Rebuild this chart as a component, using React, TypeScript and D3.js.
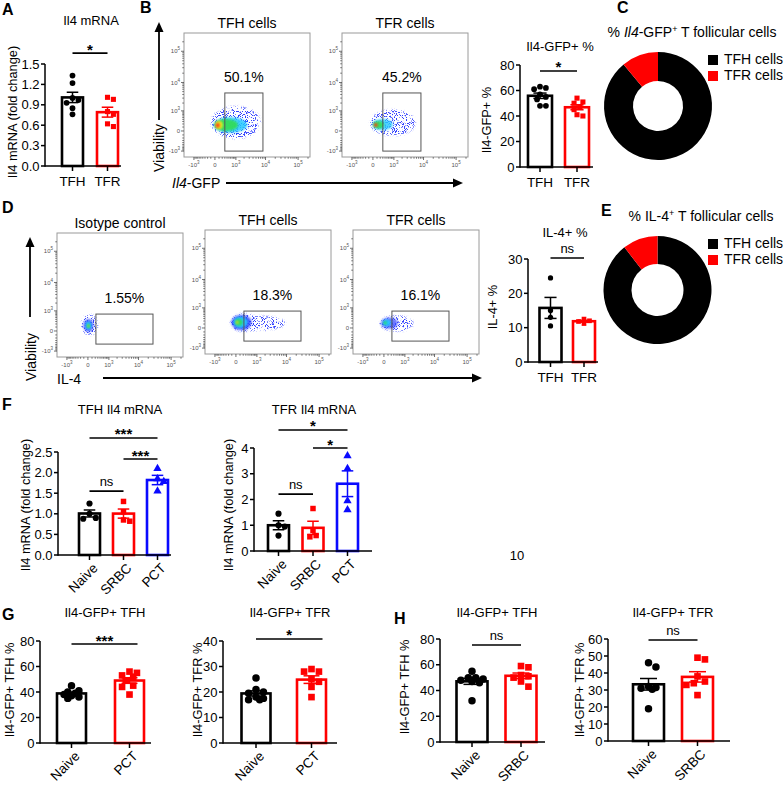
import React from "react";
import * as d3 from "d3";

const FONT = "'Liberation Sans', Arial, Helvetica, sans-serif";
const BLACK = "#000000";
const RED = "#ff0000";
const BLUE = "#0a0aff";

// ---------------- data ----------------
const aCats = ["TFH", "TFR"];
const aTFH = [1.33, 1.22, 1.0, 0.97, 0.93, 0.85, 0.76];
const aTFR = [1.01, 0.98, 0.8, 0.76, 0.62, 0.58];

const bFlowTitles = ["TFH cells", "TFR cells"];
const bFlowPct = ["50.1%", "45.2%"];
const bCats = ["TFH", "TFR"];
const bTFH = [63, 62, 61, 57, 55, 53, 48, 48];
const bTFR = [54, 51, 50, 47, 45, 41, 40];

const cLabels = ["TFH cells", "TFR cells"];
const cShares = [89, 11];

const dFlowTitles = ["Isotype control", "TFH cells", "TFR cells"];
const dFlowPct = ["1.55%", "18.3%", "16.1%"];
const dCats = ["TFH", "TFR"];
const dTFH = [24.5, 15, 13, 10.5];
const dTFR = [12.5, 12, 11.8, 11.2];

const eLabels = ["TFH cells", "TFR cells"];
const eShares = [89.5, 10.5];

const fCats = ["Naive", "SRBC", "PCT"];
const fTfhNaive = [1.25, 1.0, 0.9, 0.88];
const fTfhSrbc = [1.3, 1.05, 0.85, 0.82];
const fTfhPct = [2.1, 1.85, 1.78, 1.55];
const fTfrNaive = [1.45, 1.0, 0.95, 0.6];
const fTfrSrbc = [1.65, 0.8, 0.6, 0.55];
const fTfrPct = [3.7, 3.2, 1.95, 1.6];

const gCats = ["Naive", "PCT"];
const gTfhNaive = [45, 41, 40, 39, 38, 37, 36, 35];
const gTfhPct = [56, 55, 53, 52, 49, 45, 44, 38];
const gTfrNaive = [25.5, 21, 20, 19.5, 18, 17.5, 17, 17];
const gTfrPct = [29, 28, 28, 25, 24, 22, 18];

const hCats = ["Naive", "SRBC"];
const hTfhNaive = [55, 50, 50, 49, 48, 47, 46, 32];
const hTfhSrbc = [59, 58, 52, 51, 50, 47, 43];
const hTfrNaive = [46, 43.5, 32, 31.5, 31, 30.5, 19];
const hTfrSrbc = [49, 48, 38, 35, 34, 33, 27];

// flow cytometry axis ticks and gates (data units)
const flowMajor = [-1000, 0, 1000, 10000, 100000];
const flowExp = [3, 0, 3, 4, 5];
const bGate = { x: [300, 8300], y: [-1000, 4500] };
const dGate = { x: [225, 28000], y: [-480, 730] };

type Layer = { x: number[]; y: number[]; c: string; o?: number; s?: boolean };
const bTfhCloud: Layer[] = [
  { x: [-90, 7000], y: [-220, 1500], c: "#2233ff", s: true },
  { x: [-50, 4200], y: [-100, 800], c: "#2b3cff", s: true },
  { x: [-30, 2600], y: [-40, 520], c: "#22c8ff", o: 0.85 },
  { x: [-5, 1200], y: [0, 420], c: "#33dd55" },
  { x: [5, 220], y: [40, 330], c: "#f5e61a" },
  { x: [18, 120], y: [80, 240], c: "#ff3010" },
];
const bTfrCloud: Layer[] = [
  { x: [-60, 5500], y: [-120, 1100], c: "#2233ff", s: true },
  { x: [-30, 1500], y: [-40, 560], c: "#3a4cff", s: true },
  { x: [-10, 900], y: [20, 420], c: "#22c8ff", o: 0.8 },
  { x: [5, 350], y: [60, 320], c: "#33dd55" },
  { x: [18, 120], y: [100, 240], c: "#ff4010" },
];
const dIsoCloud: Layer[] = [
  { x: [-180, 300], y: [-100, 700], c: "#2233ff", s: true },
  { x: [-110, 140], y: [-20, 420], c: "#3a4cff", o: 0.85 },
  { x: [-60, 90], y: [30, 300], c: "#22c8ff" },
  { x: [-25, 50], y: [70, 210], c: "#33dd55" },
  { x: [-8, 25], y: [100, 160], c: "#f5c81a" },
];
const dTfhCloud: Layer[] = [
  { x: [-100, 9000], y: [-60, 420], c: "#2233ff", s: true },
  { x: [-140, 1100], y: [-90, 560], c: "#2b3cff", s: true },
  { x: [-110, 600], y: [-50, 470], c: "#2b3cff", o: 0.85 },
  { x: [-60, 380], y: [0, 390], c: "#22c8ff" },
  { x: [-20, 180], y: [50, 290], c: "#33dd55" },
  { x: [0, 60], y: [100, 210], c: "#f5d01a" },
];
const dTfrCloud: Layer[] = [
  { x: [-100, 2000], y: [-80, 450], c: "#2233ff", s: true },
  { x: [-70, 500], y: [-20, 340], c: "#3a4cff", o: 0.75 },
  { x: [-30, 200], y: [40, 260], c: "#22c8ff" },
  { x: [-10, 70], y: [90, 190], c: "#33dd55" },
];

// ---------------- components ----------------
type Sig = { a: number; b: number; v: number; text: string; ext?: number };
type BarProps = {
  cats: string[];
  groups: number[][];
  colors: string[];
  shapes: any[];
  msize: number;
  axisX: number;
  axisEnd: number;
  y0: number;
  yTop: number;
  max: number;
  step: number;
  dec: number;
  c0: number;
  c1: number;
  bw: number;
  title: string;
  titleX: number;
  titleY: number;
  ylabel: string;
  ylX: number;
  ylY: number;
  rotate?: boolean;
  sigs: Sig[];
};

// spread points horizontally inside the bar so they do not overlap (Prism-like scatter)
function swarm(vals: number[], ys: (v: number) => number, cx: number, d: number, half: number) {
  const placed: { x: number; y: number }[] = [];
  const out: { x: number; y: number }[] = new Array(vals.length);
  const order = vals.map((_, i) => i).sort((a, b) => vals[b] - vals[a]);
  const stepX = d * 0.5;
  const nSteps = Math.max(0, Math.floor(half / stepX));
  const cands: number[] = [0];
  for (let k = 1; k <= nSteps; k++) cands.push(k * stepX, -k * stepX);
  for (const i of order) {
    const py = ys(vals[i]);
    let best = cx;
    let bestScore = -Infinity;
    let found = false;
    for (const off of cands) {
      const tx = cx + off;
      const minD = placed.length ? d3.min(placed, (p) => Math.hypot(p.x - tx, p.y - py))! : Infinity;
      if (minD >= d * 0.95) {
        best = tx;
        found = true;
        break;
      }
      if (minD > bestScore) {
        bestScore = minD;
        best = tx;
      }
    }
    void found;
    placed.push({ x: best, y: py });
    out[i] = { x: best, y: py };
  }
  return out;
}

function BarChart(p: BarProps) {
  const y = d3.scaleLinear().domain([0, p.max]).range([p.y0, p.yTop]);
  const x = d3.scalePoint<string>().domain(p.cats).range([p.c0, p.c1]);
  const ticks = d3.range(0, p.max + p.step / 2, p.step);
  const fmt = d3.format(`.${p.dec}f`);
  const d = Math.sqrt(p.msize) + 0.8;
  return (
    <g fontFamily={FONT}>
      <text x={p.titleX} y={p.titleY} textAnchor="middle" fontSize={13}>
        {p.title}
      </text>
      <text
        transform={`translate(${p.ylX},${p.ylY}) rotate(-90)`}
        textAnchor="middle"
        dy="0.35em"
        fontSize={12.8}
      >
        {p.ylabel}
      </text>
      {p.groups.map((g, i) => {
        const cx = x(p.cats[i])!;
        const m = d3.mean(g)!;
        const sem = d3.deviation(g)! / Math.sqrt(g.length);
        const pts = swarm(g, y, cx, d, p.bw / 2 - d / 2);
        const sym = d3.symbol().type(p.shapes[i]).size(p.msize)();
        const cap = p.bw * 0.55;
        return (
          <g key={i}>
            <rect
              x={cx - p.bw / 2}
              y={y(m)}
              width={p.bw}
              height={p.y0 - y(m)}
              fill="white"
              stroke={p.colors[i]}
              strokeWidth={2.6}
            />
            {pts.map((pt, j) => (
              <path key={j} d={sym!} transform={`translate(${pt.x},${pt.y})`} fill={p.colors[i]} />
            ))}
            <line x1={cx} x2={cx} y1={y(m - sem)} y2={y(m + sem)} stroke={p.colors[i]} strokeWidth={1.5} />
            <line x1={cx - cap / 2} x2={cx + cap / 2} y1={y(m + sem)} y2={y(m + sem)} stroke={p.colors[i]} strokeWidth={1.5} />
            <line x1={cx - cap / 2} x2={cx + cap / 2} y1={y(m - sem)} y2={y(m - sem)} stroke={p.colors[i]} strokeWidth={1.5} />
          </g>
        );
      })}
      <line x1={p.axisX} x2={p.axisX} y1={p.y0 + 0.75} y2={p.yTop} stroke={BLACK} strokeWidth={1.5} />
      <line x1={p.axisX} x2={p.axisEnd} y1={p.y0} y2={p.y0} stroke={BLACK} strokeWidth={1.5} />
      {ticks.map((t) => (
        <g key={t}>
          <line x1={p.axisX - 4} x2={p.axisX} y1={y(t)} y2={y(t)} stroke={BLACK} strokeWidth={1.5} />
          <text x={p.axisX - 5.5} y={y(t)} dy="0.36em" textAnchor="end" fontSize={13}>
            {fmt(t)}
          </text>
        </g>
      ))}
      {p.cats.map((c) => {
        const cx = x(c)!;
        return (
          <g key={c}>
            <line x1={cx} x2={cx} y1={p.y0} y2={p.y0 + 5} stroke={BLACK} strokeWidth={1.5} />
            {p.rotate ? (
              <text transform={`translate(${cx + 9},${p.y0 + 14}) rotate(-45)`} textAnchor="end" fontSize={13.5}>
                {c}
              </text>
            ) : (
              <text x={cx} y={p.y0 + 20} textAnchor="middle" fontSize={13.5}>
                {c}
              </text>
            )}
          </g>
        );
      })}
      {p.sigs.map((s, i) => {
        const xa = x(p.cats[s.a])!;
        const xb = x(p.cats[s.b])! + (s.ext || 0);
        const ly = y(s.v);
        const star = s.text.includes("*");
        return (
          <g key={i}>
            <line x1={xa} x2={xb} y1={ly} y2={ly} stroke={BLACK} strokeWidth={1.6} />
            <text
              x={(xa + xb) / 2}
              y={star ? ly + 1.5 : ly - 5}
              textAnchor="middle"
              fontSize={star ? 15 : 13}
              fontWeight={star ? "bold" : "normal"}
            >
              {s.text}
            </text>
          </g>
        );
      })}
    </g>
  );
}

function tickLabel(v: number, e: number) {
  if (v === 0) return <tspan>0</tspan>;
  return (
    <>
      <tspan>{v < 0 ? "-10" : "10"}</tspan>
      <tspan dy={-3} fontSize={4.5}>
        {e}
      </tspan>
    </>
  );
}

function FlowPlot(props: {
  id: string;
  x: number;
  y: number;
  w: number;
  h: number;
  title: string;
  pct: string;
  gate: { x: number[]; y: number[] };
  layers: Layer[];
}) {
  const { id, x, y, w, h, title, pct, gate, layers } = props;
  const xs = d3.scaleSymlog().constant(300).domain([-2300, 230000]).range([x, x + w]);
  const ys = d3.scaleSymlog().constant(300).domain([-1700, 380000]).range([y + h, y]);
  const minor = [
    ...d3.range(-900, 1000, 100).filter((v) => v !== 0),
    ...d3.range(2000, 10000, 1000),
    ...d3.range(20000, 100000, 10000),
    200000,
  ];
  const gx0 = xs(gate.x[0]);
  const gx1 = xs(gate.x[1]);
  const gy0 = ys(gate.y[1]);
  const gy1 = ys(gate.y[0]);
  return (
    <g fontFamily={FONT}>
      <clipPath id={id}>
        <rect x={x} y={y} width={w} height={h} />
      </clipPath>
      <text x={x + w / 2} y={y - 5} textAnchor="middle" fontSize={14}>
        {title}
      </text>
      <rect x={x} y={y} width={w} height={h} fill="white" stroke="#9a9a9a" strokeWidth={1} />
      <g clipPath={`url(#${id})`}>
        {layers.map((l, i) => {
          const x0 = xs(l.x[0]);
          const x1 = xs(l.x[1]);
          const y0 = ys(l.y[1]);
          const y1 = ys(l.y[0]);
          return (
            <ellipse
              key={i}
              cx={(x0 + x1) / 2}
              cy={(y0 + y1) / 2}
              rx={(x1 - x0) / 2}
              ry={(y1 - y0) / 2}
              fill={l.c}
              opacity={l.o ?? 0.92}
              filter={l.s ? "url(#speckle)" : "url(#soft)"}
            />
          );
        })}
      </g>
      <rect x={gx0} y={gy0} width={gx1 - gx0} height={gy1 - gy0} fill="none" stroke="#555" strokeWidth={1} />
      <text x={(gx0 + gx1) / 2} y={gy0 - 11} textAnchor="middle" fontSize={14}>
        {pct}
      </text>
      {flowMajor.map((v, i) => (
        <g key={v} fill="#555" fontSize={6}>
          <line x1={x - 3} x2={x} y1={ys(v)} y2={ys(v)} stroke="#333" strokeWidth={0.7} />
          <text x={x - 4} y={ys(v)} dy="0.35em" textAnchor="end">
            {tickLabel(v, flowExp[i])}
          </text>
          <line x1={xs(v)} x2={xs(v)} y1={y + h} y2={y + h + 3} stroke="#333" strokeWidth={0.7} />
          <text x={xs(v)} y={y + h + 10} textAnchor="middle">
            {tickLabel(v, flowExp[i])}
          </text>
        </g>
      ))}
      {minor.map((v) => (
        <g key={v}>
          <line x1={x - 1.8} x2={x} y1={ys(v)} y2={ys(v)} stroke="#333" strokeWidth={0.6} />
          <line x1={xs(v)} x2={xs(v)} y1={y + h} y2={y + h + 1.8} stroke="#333" strokeWidth={0.6} />
        </g>
      ))}
    </g>
  );
}

function Donut(props: { cx: number; cy: number; r0: number; r1: number; values: number[] }) {
  const pie = d3.pie<number>().sort(null)(props.values);
  const arc = d3.arc<d3.PieArcDatum<number>>().innerRadius(props.r0).outerRadius(props.r1);
  const cols = [BLACK, RED];
  return (
    <g transform={`translate(${props.cx},${props.cy})`}>
      {pie.map((p, i) => (
        <path key={i} d={arc(p)!} fill={cols[i]} />
      ))}
    </g>
  );
}

function Legend(props: { x: number; y: number; labels: string[] }) {
  const cols = [BLACK, RED];
  return (
    <g fontFamily={FONT} fontSize={14}>
      {props.labels.map((l, i) => (
        <g key={l}>
          <rect x={props.x} y={props.y + i * 16 - 9} width={10} height={10} fill={cols[i]} />
          <text x={props.x + 16} y={props.y + i * 16}>
            {l}
          </text>
        </g>
      ))}
    </g>
  );
}

function Arrow(props: { x1: number; y1: number; x2: number; y2: number }) {
  const { x1, y1, x2, y2 } = props;
  const ang = Math.atan2(y2 - y1, x2 - x1);
  const L = 10;
  const W = 4.5;
  const bx = x2 - L * Math.cos(ang);
  const by = y2 - L * Math.sin(ang);
  const px = -Math.sin(ang) * W;
  const py = Math.cos(ang) * W;
  return (
    <g>
      <line x1={x1} y1={y1} x2={bx} y2={by} stroke={BLACK} strokeWidth={1.8} />
      <polygon points={`${x2},${y2} ${bx + px},${by + py} ${bx - px},${by - py}`} fill={BLACK} />
    </g>
  );
}

const Letter = (p: { x: number; y: number; t: string }) => (
  <text x={p.x} y={p.y} fontFamily={FONT} fontWeight="bold" fontSize={16}>
    {p.t}
  </text>
);

export default function App() {
  const circ = d3.symbolCircle;
  const sq = d3.symbolSquare;
  const tri = d3.symbolTriangle;
  return (
    <svg
      width={783}
      height={786}
      style={{ position: "absolute", left: 0, top: 0, background: "white" }}
      fontFamily={FONT}
    >
      <defs>
        <filter id="soft" x="-20%" y="-20%" width="140%" height="140%">
          <feGaussianBlur stdDeviation="0.8" />
        </filter>
        <filter id="speckle" x="-10%" y="-10%" width="120%" height="120%">
          <feGaussianBlur in="SourceGraphic" stdDeviation="1.2" result="b" />
          <feTurbulence type="fractalNoise" baseFrequency="1.1" numOctaves="1" seed="4" result="noise" />
          <feColorMatrix
            in="noise"
            type="matrix"
            values="0 0 0 0 0  0 0 0 0 0  0 0 0 0 0  0 0 0 14 -7.6"
            result="mask"
          />
          <feComposite in="b" in2="mask" operator="in" />
        </filter>
      </defs>
      <rect x={0} y={0} width={783} height={786} fill="white" />

      {/* ---------- A ---------- */}
      <Letter x={2} y={15} t="A" />
      <BarChart
        cats={aCats}
        groups={[aTFH, aTFR]}
        colors={[BLACK, RED]}
        shapes={[circ, sq]}
        msize={26}
        axisX={45}
        axisEnd={121}
        y0={166}
        yTop={64}
        max={1.5}
        step={0.3}
        dec={1}
        c0={72.5}
        c1={107.5}
        bw={21}
        title="Il4 mRNA"
        titleX={91}
        titleY={25}
        ylabel="Il4 mRNA (fold change)"
        ylX={13}
        ylY={112}
        sigs={[{ a: 0, b: 1, v: 1.66, text: "*" }]}
      />

      {/* ---------- B ---------- */}
      <Letter x={140} y={13} t="B" />
      <FlowPlot id="fb1" x={184} y={33} w={126} h={124} title={bFlowTitles[0]} pct={bFlowPct[0]} gate={bGate} layers={bTfhCloud} />
      <FlowPlot id="fb2" x={342} y={33} w={126} h={124} title={bFlowTitles[1]} pct={bFlowPct[1]} gate={bGate} layers={bTfrCloud} />
      <Arrow x1={159} y1={120} x2={159} y2={22} />
      <text transform="translate(159,148) rotate(-90)" textAnchor="middle" dy="0.35em" fontSize={14}>
        Viability
      </text>
      <text x={172} y={188} fontSize={14}>
        <tspan fontStyle="italic">Il4</tspan>
        <tspan>-GFP</tspan>
      </text>
      <Arrow x1={226} y1={183} x2={463} y2={183} />
      <BarChart
        cats={bCats}
        groups={[bTFH, bTFR]}
        colors={[BLACK, RED]}
        shapes={[circ, sq]}
        msize={26}
        axisX={520}
        axisEnd={593}
        y0={167}
        yTop={65}
        max={80}
        step={20}
        dec={0}
        c0={540}
        c1={577}
        bw={24}
        title="Il4-GFP+ %"
        titleX={560}
        titleY={51}
        ylabel="Il4-GFP+ %"
        ylX={487}
        ylY={120}
        sigs={[{ a: 0, b: 1, v: 75.3, text: "*" }]}
      />

      {/* ---------- C ---------- */}
      <Letter x={617} y={13} t="C" />
      <text x={692} y={37} textAnchor="middle" fontSize={14}>
        <tspan>% </tspan>
        <tspan fontStyle="italic">Il4</tspan>
        <tspan>-GFP</tspan>
        <tspan dy={-5} fontSize={9}>
          +
        </tspan>
        <tspan dy={5}> T follicular cells</tspan>
      </text>
      <Donut cx={658} cy={106} r0={25} r1={54} values={cShares} />
      <Legend x={708} y={64} labels={cLabels} />

      {/* ---------- D ---------- */}
      <Letter x={2} y={213} t="D" />
      <FlowPlot id="fd1" x={57} y={233} w={126} h={124} title={dFlowTitles[0]} pct={dFlowPct[0]} gate={dGate} layers={dIsoCloud} />
      <FlowPlot id="fd2" x={205} y={230} w={126} h={124} title={dFlowTitles[1]} pct={dFlowPct[1]} gate={dGate} layers={dTfhCloud} />
      <FlowPlot id="fd3" x={353} y={230} w={126} h={124} title={dFlowTitles[2]} pct={dFlowPct[2]} gate={dGate} layers={dTfrCloud} />
      <Arrow x1={30} y1={317} x2={30} y2={237} />
      <text transform="translate(31,357) rotate(-90)" textAnchor="middle" dy="0.35em" fontSize={14}>
        Viability
      </text>
      <text x={57} y={384} fontSize={14}>
        IL-4
      </text>
      <Arrow x1={103} y1={378} x2={482} y2={378} />
      <BarChart
        cats={dCats}
        groups={[dTFH, dTFR]}
        colors={[BLACK, RED]}
        shapes={[circ, sq]}
        msize={22}
        axisX={528}
        axisEnd={598}
        y0={362}
        yTop={259}
        max={30}
        step={10}
        dec={0}
        c0={550.5}
        c1={584}
        bw={22}
        title="IL-4+ %"
        titleX={565}
        titleY={237}
        ylabel="IL-4+ %"
        ylX={493}
        ylY={307}
        sigs={[{ a: 0, b: 1, v: 30.3, text: "ns" }]}
      />

      {/* ---------- E ---------- */}
      <Letter x={601} y={216} t="E" />
      <text x={701} y={221} textAnchor="middle" fontSize={14}>
        <tspan>% IL-4</tspan>
        <tspan dy={-5} fontSize={9}>
          +
        </tspan>
        <tspan dy={5}> T follicular cells</tspan>
      </text>
      <Donut cx={657.5} cy={290} r0={26} r1={54} values={eShares} />
      <Legend x={708} y={248} labels={eLabels} />

      {/* ---------- F ---------- */}
      <Letter x={2} y={410} t="F" />
      <BarChart
        cats={fCats}
        groups={[fTfhNaive, fTfhSrbc, fTfhPct]}
        colors={[BLACK, RED, BLUE]}
        shapes={[circ, sq, tri]}
        msize={30}
        axisX={58}
        axisEnd={171}
        y0={555}
        yTop={452}
        max={2.5}
        step={0.5}
        dec={1}
        c0={89.5}
        c1={157.5}
        bw={21}
        title="TFH Il4 mRNA"
        titleX={120}
        titleY={414}
        ylabel="Il4 mRNA (fold change)"
        ylX={26}
        ylY={505}
        rotate
        sigs={[
          { a: 0, b: 2, v: 2.84, text: "***" },
          { a: 1, b: 2, v: 2.33, text: "***" },
          { a: 0, b: 1, v: 1.55, text: "ns" },
        ]}
      />
      <BarChart
        cats={fCats}
        groups={[fTfrNaive, fTfrSrbc, fTfrPct]}
        colors={[BLACK, RED, BLUE]}
        shapes={[circ, sq, tri]}
        msize={30}
        axisX={254}
        axisEnd={372}
        y0={551}
        yTop={448}
        max={4}
        step={1}
        dec={0}
        c0={278.5}
        c1={347.5}
        bw={21}
        title="TFR Il4 mRNA"
        titleX={314}
        titleY={414}
        ylabel="Il4 mRNA (fold change)"
        ylX={229}
        ylY={505}
        rotate
        sigs={[
          { a: 0, b: 2, v: 4.7, text: "*" },
          { a: 1, b: 2, v: 4.0, text: "*" },
          { a: 0, b: 1, v: 2.21, text: "ns" },
        ]}
      />
      <text x={517} y={560} textAnchor="middle" fontSize={13}>
        10
      </text>

      {/* ---------- G ---------- */}
      <Letter x={2} y={620} t="G" />
      <BarChart
        cats={gCats}
        groups={[gTfhNaive, gTfhPct]}
        colors={[BLACK, RED]}
        shapes={[circ, sq]}
        msize={44}
        axisX={40}
        axisEnd={151}
        y0={743}
        yTop={641}
        max={80}
        step={20}
        dec={0}
        c0={71.5}
        c1={129.5}
        bw={29}
        title="Il4-GFP+ TFH"
        titleX={105}
        titleY={617}
        ylabel="Il4-GFP+ TFH %"
        ylX={10}
        ylY={690}
        rotate
        sigs={[{ a: 0, b: 1, v: 77.6, text: "***", ext: 8 }]}
      />
      <BarChart
        cats={gCats}
        groups={[gTfrNaive, gTfrPct]}
        colors={[BLACK, RED]}
        shapes={[circ, sq]}
        msize={44}
        axisX={223}
        axisEnd={337}
        y0={743}
        yTop={641}
        max={40}
        step={10}
        dec={0}
        c0={256}
        c1={311.5}
        bw={29}
        title="Il4-GFP+ TFR"
        titleX={290}
        titleY={617}
        ylabel="Il4-GFP+ TFR %"
        ylX={198}
        ylY={690}
        rotate
        sigs={[{ a: 0, b: 1, v: 40.8, text: "*", ext: 11 }]}
      />

      {/* ---------- H ---------- */}
      <Letter x={394} y={624} t="H" />
      <BarChart
        cats={hCats}
        groups={[hTfhNaive, hTfhSrbc]}
        colors={[BLACK, RED]}
        shapes={[circ, sq]}
        msize={44}
        axisX={440}
        axisEnd={545}
        y0={742}
        yTop={639}
        max={80}
        step={20}
        dec={0}
        c0={472}
        c1={521}
        bw={31}
        title="Il4-GFP+ TFH"
        titleX={497}
        titleY={617}
        ylabel="Il4-GFP+ TFH %"
        ylX={405}
        ylY={687}
        rotate
        sigs={[{ a: 0, b: 1, v: 75.3, text: "ns" }]}
      />
      <BarChart
        cats={hCats}
        groups={[hTfrNaive, hTfrSrbc]}
        colors={[BLACK, RED]}
        shapes={[circ, sq]}
        msize={44}
        axisX={608}
        axisEnd={730}
        y0={741}
        yTop={639}
        max={60}
        step={10}
        dec={0}
        c0={648.5}
        c1={697.5}
        bw={31}
        title="Il4-GFP+ TFR"
        titleX={673}
        titleY={617}
        ylabel="Il4-GFP+ TFR %"
        ylX={580}
        ylY={690}
        rotate
        sigs={[{ a: 0, b: 1, v: 59.4, text: "ns" }]}
      />
    </svg>
  );
}
